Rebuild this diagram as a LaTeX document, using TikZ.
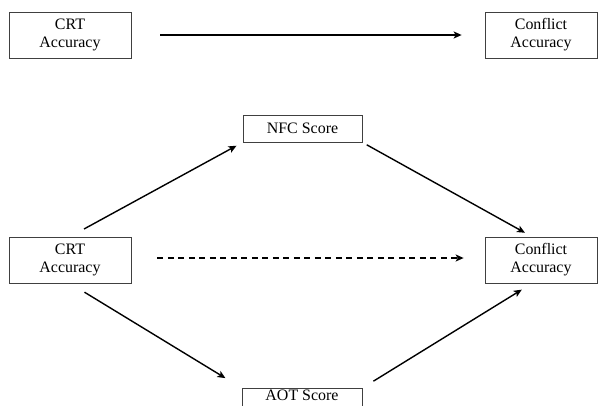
\documentclass[tikz,border=0pt]{standalone}
\usepackage{fontspec}
\setmainfont{Liberation Serif}
\usetikzlibrary{arrows.meta}
\tikzset{
  box/.style={draw=black!75, line width=0.7bp, align=center, inner sep=0pt, font=\fontsize{16}{18}\selectfont},
  link/.style={line width=1.4bp, -{Stealth[length=8bp,width=7bp,inset=2bp]}}
}
\begin{document}
\begin{tikzpicture}[x=1bp,y=-1bp]
            \useasboundingbox (0,0) rectangle (598,405);
            \node[box, minimum width=122bp, minimum height=46bp] (crtA) at (70,35) {CRT\\Accuracy};
            \node[box, minimum width=112bp, minimum height=46bp] (confA) at (541,35) {Conflict\\Accuracy};
            \node[box, minimum width=119bp, minimum height=27bp] (nfc) at (302.5,128.5) {NFC Score};
            \node[box, minimum width=122bp, minimum height=46bp] (crtB) at (70,260) {CRT\\Accuracy};
            \node[box, minimum width=112bp, minimum height=46bp] (confB) at (541,260) {Conflict\\Accuracy};
            \node[box, minimum width=120bp, text height=12bp, text depth=15bp, anchor=north] (aot) at (302,388) {AOT Score};
            \draw[link, shorten <=29bp, shorten >=23bp] (crtA.east) -- (confA.west);
            \draw[link, shorten <=16bp, shorten >=7bp] (crtB.north) -- (nfc.south west);
            \draw[link, shorten <=5bp, shorten >=8bp] (nfc.south east) -- ([xshift=-9bp]confB.north);
            \draw[link, shorten <=17bp, shorten >=19bp] (crtB.south) -- (aot.north west);
            \draw[link, shorten <=13bp, shorten >=12bp] (aot.north east) -- ([xshift=-9bp]confB.south);
            \draw[link, dashed, dash pattern=on 6bp off 4.5bp, shorten <=26bp, shorten >=21bp] ([yshift=2bp]crtB.east) -- ([yshift=2bp]confB.west);
            \end{tikzpicture}
\end{document}
